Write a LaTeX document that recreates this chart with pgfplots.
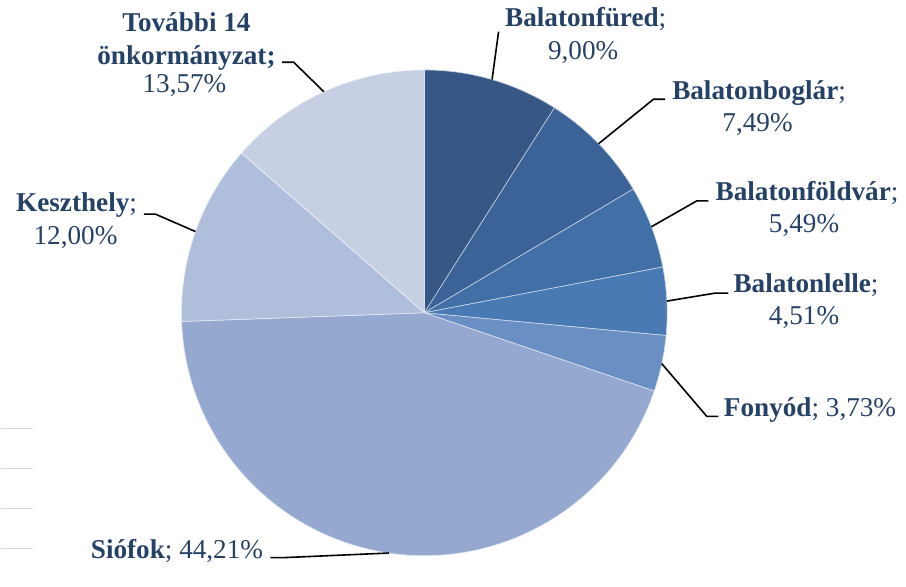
\documentclass[border=0pt]{standalone}
\usepackage{pgfplots}
\usepackage{pgfplotstable}
\pgfplotsset{compat=1.18}
\usepackage{fontspec}
\setmainfont{Liberation Serif}
\definecolor{txt}{HTML}{264166}
\definecolor{s0}{HTML}{375886}
\definecolor{s1}{HTML}{3C6397}
\definecolor{s2}{HTML}{416FA6}
\definecolor{s3}{HTML}{4A7AB4}
\definecolor{s4}{HTML}{6A8FC2}
\definecolor{s5}{HTML}{94A8D0}
\definecolor{s6}{HTML}{AFBFDB}
\definecolor{s7}{HTML}{C7D0E3}
\definecolor{gridgray}{HTML}{D9D9D9}

\pgfplotstableread{
idx value
0 9.00
1 7.49
2 5.49
3 4.51
4 3.73
5 44.21
6 12.00
7 13.57
}\piedata
\pgfplotstablecreatecol[expr accum={\pgfmathaccuma + \thisrow{value}}{0}]{cum}{\piedata}

\newcommand\lab{\fontsize{13.6}{16}\selectfont}
\def\R{121.5pt}

\begin{document}
\begin{tikzpicture}
\begin{axis}[
  width=453pt, height=282pt, scale only axis,
  xmin=0, xmax=906, ymin=0, ymax=564,
  y dir=reverse,
  hide axis, clip=false,
]
% faint grid remnants at left
\addplot[gridgray, line width=0.6pt, forget plot] coordinates {(0,429) (32,429)};
\addplot[gridgray, line width=0.6pt, forget plot] coordinates {(0,469) (32,469)};
\addplot[gridgray, line width=0.6pt, forget plot] coordinates {(0,509) (32,509)};
\addplot[gridgray, line width=0.6pt, forget plot] coordinates {(0,549) (32,549)};

\pgfplotsextra{
  \path (axis cs:0,0) rectangle (axis cs:906,564);
  \foreach \i in {0,...,7}{
    \pgfplotstablegetelem{\i}{value}\of\piedata \let\vv\pgfplotsretval
    \pgfplotstablegetelem{\i}{cum}\of\piedata \let\cv\pgfplotsretval
    \pgfmathsetmacro{\sa}{90-3.6*(\cv-\vv)}
    \pgfmathsetmacro{\ea}{90-3.6*\cv}
    \fill[s\i, draw=white!70!s\i, line width=0.3pt] (axis cs:424,313) -- ++(\sa:\R)
      arc[start angle=\sa, end angle=\ea, radius=\R] -- cycle;
  }
  % leader lines
  \draw[black, line width=0.8pt] (axis cs:491.8,79.7) -- (axis cs:498.3,31.7);
  \draw[black, line width=0.8pt] (axis cs:598.4,143.8) -- (axis cs:653.3,99.3) -- (axis cs:665,99.3);
  \draw[black, line width=0.8pt] (axis cs:651.2,226.9) -- (axis cs:696.7,201) -- (axis cs:708.3,201);
  \draw[black, line width=0.8pt] (axis cs:666.7,301.3) -- (axis cs:715,293.3) -- (axis cs:728.3,293.3);
  \draw[black, line width=0.8pt] (axis cs:661.6,363.9) -- (axis cs:706.7,416.7) -- (axis cs:718.3,416.7);
  \draw[black, line width=0.8pt] (axis cs:388.6,553.4) -- (axis cs:283,558) -- (axis cs:270,558);
  \draw[black, line width=0.8pt] (axis cs:195,231.7) -- (axis cs:155,214.3) -- (axis cs:143.3,214.3);
  \draw[black, line width=0.8pt] (axis cs:323.5,91.8) -- (axis cs:293.3,62.3) -- (axis cs:281.7,62.3);
}
% labels
\node[anchor=base, text=txt, font=\lab, inner sep=0pt] at (axis cs:585.5,27) {\textbf{Balatonfüred};};
\node[anchor=base, text=txt, font=\lab, inner sep=0pt] at (axis cs:583,60) {9,00\%};
\node[anchor=base, text=txt, font=\lab, inner sep=0pt] at (axis cs:759,100) {\textbf{Balatonboglár};};
\node[anchor=base, text=txt, font=\lab, inner sep=0pt] at (axis cs:757.5,131.7) {7,49\%};
\node[anchor=base, text=txt, font=\lab, inner sep=0pt] at (axis cs:807,201) {\textbf{Balatonföldvár};};
\node[anchor=base, text=txt, font=\lab, inner sep=0pt] at (axis cs:804,233) {5,49\%};
\node[anchor=base, text=txt, font=\lab, inner sep=0pt] at (axis cs:806,293) {\textbf{Balatonlelle};};
\node[anchor=base, text=txt, font=\lab, inner sep=0pt] at (axis cs:804,325) {4,51\%};
\node[anchor=base, text=txt, font=\lab, inner sep=0pt] at (axis cs:810,416.7) {\textbf{Fonyód}; 3,73\%};
\node[anchor=base, text=txt, font=\lab, inner sep=0pt] at (axis cs:176.5,559) {\textbf{Siófok}; 44,21\%};
\node[anchor=base, text=txt, font=\lab, inner sep=0pt] at (axis cs:76,211.7) {\textbf{Keszthely};};
\node[anchor=base, text=txt, font=\lab, inner sep=0pt] at (axis cs:75,245) {12,00\%};
\node[anchor=base, text=txt, font=\lab, inner sep=0pt] at (axis cs:186,31.7) {\textbf{További 14}};
\node[anchor=base, text=txt, font=\lab, inner sep=0pt] at (axis cs:186,65) {\textbf{önkormányzat;}};
\node[anchor=base, text=txt, font=\lab, inner sep=0pt] at (axis cs:184,93) {13,57\%};
\end{axis}
\end{tikzpicture}
\end{document}
